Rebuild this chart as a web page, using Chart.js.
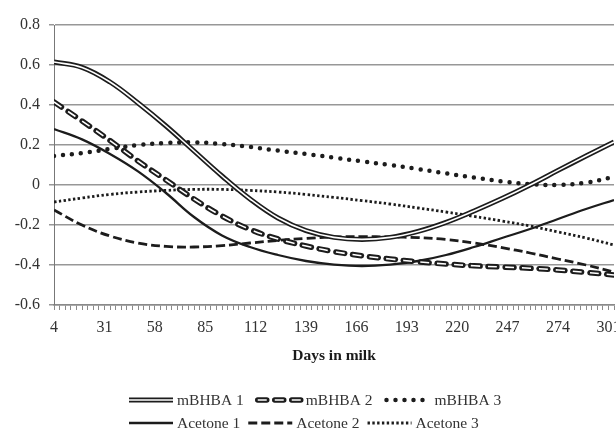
<!DOCTYPE html>
<html>
<head>
<meta charset="utf-8">
<script src="https://cdn.jsdelivr.net/npm/chart.js@4.4.1/dist/chart.umd.min.js"></script>
<style>
    html, body { margin: 0; padding: 0; background: #fff; }
</style>
</head>
<body>
<canvas id="milkChart" width="616" height="437"></canvas>
<script>
const days = [4, 19, 34, 49, 64, 79, 94, 109, 124, 139, 154, 169, 184, 199, 214, 229, 244, 259, 274, 289, 304];

const mBHBA1 = [0.615, 0.588, 0.515, 0.41, 0.295, 0.17, 0.045, -0.07, -0.165, -0.228, -0.262, -0.272, -0.262, -0.232, -0.187, -0.13, -0.068, 0.0, 0.073, 0.145, 0.215];
const mBHBA2 = [0.415, 0.32, 0.222, 0.12, 0.025, -0.07, -0.155, -0.222, -0.27, -0.305, -0.333, -0.354, -0.37, -0.384, -0.395, -0.404, -0.41, -0.416, -0.425, -0.437, -0.45];
const mBHBA3 = [0.145, 0.16, 0.18, 0.2, 0.21, 0.213, 0.205, 0.19, 0.172, 0.155, 0.137, 0.118, 0.1, 0.08, 0.058, 0.037, 0.018, 0.004, 0.0, 0.012, 0.04];
const acetone1 = [0.28, 0.228, 0.155, 0.068, -0.04, -0.16, -0.252, -0.31, -0.35, -0.38, -0.398, -0.405, -0.398, -0.38, -0.35, -0.31, -0.265, -0.22, -0.17, -0.12, -0.075];
const acetone2 = [-0.125, -0.2, -0.255, -0.29, -0.307, -0.31, -0.303, -0.29, -0.277, -0.267, -0.26, -0.258, -0.26, -0.263, -0.272, -0.29, -0.313, -0.34, -0.37, -0.4, -0.435];
const acetone3 = [-0.085, -0.065, -0.047, -0.035, -0.027, -0.022, -0.022, -0.027, -0.035, -0.047, -0.062, -0.078, -0.095, -0.115, -0.135, -0.157, -0.18, -0.205, -0.235, -0.265, -0.3];

const xTickLabels = [4, 31, 58, 85, 112, 139, 166, 193, 220, 247, 274, 301];
const xTitle = 'Days in milk';

const serif = '"Liberation Serif", "DejaVu Serif", serif';
const ink = '#1c1c1c';

const toPoints = values => values.map((v, i) => ({ x: days[i], y: v }));

// second white stroke on top of a line, gives the "double line" look
const innerLinePlugin = {
    id: 'innerLine',
    afterDatasetDraw(chart, args) {
        const ds = chart.data.datasets[args.index];
        const line = args.meta.dataset;
        if (!ds.inner || !line || typeof line.path !== 'function') return;
        const ctx = chart.ctx;
        const area = chart.chartArea;
        ctx.save();
        ctx.beginPath();
        ctx.rect(area.left, area.top - 10, area.right - area.left, area.bottom - area.top + 20);
        ctx.clip();
        ctx.beginPath();
        ctx.strokeStyle = '#ffffff';
        ctx.lineWidth = ds.inner.width;
        ctx.lineCap = 'butt';
        ctx.lineJoin = 'round';
        ctx.setLineDash(ds.inner.dash || []);
        line.path(ctx);
        ctx.stroke();
        ctx.restore();
    }
};

// legend drawn by hand in two rows: three series per row, left aligned
const legendRows = [
    { y: 400, start: 127, items: [0, 1, 2], gap: 12 },
    { y: 423, start: 127, items: [3, 4, 5], gap: 6 }
];
const sampleWidth = 48;

const legendPlugin = {
    id: 'twoRowLegend',
    afterDraw(chart) {
        const ctx = chart.ctx;
        ctx.save();
        ctx.font = '15.5px ' + serif;
        legendRows.forEach(row => {
            let x = row.start;
            row.items.forEach(i => {
                const ds = chart.data.datasets[i];
                const y = row.y;
                ctx.strokeStyle = ds.borderColor;
                ctx.lineWidth = ds.borderWidth;
                ctx.lineCap = ds.borderCapStyle || 'butt';
                ctx.setLineDash(ds.borderDash || []);
                ctx.beginPath();
                ctx.moveTo(x + 2, y);
                ctx.lineTo(x + sampleWidth - 2, y);
                ctx.stroke();
                if (ds.inner) {
                    ctx.strokeStyle = '#ffffff';
                    ctx.lineWidth = ds.inner.width;
                    ctx.lineCap = 'butt';
                    ctx.setLineDash(ds.inner.dash || []);
                    ctx.beginPath();
                    ctx.moveTo(x + 2, y);
                    ctx.lineTo(x + sampleWidth - 2, y);
                    ctx.stroke();
                }
                ctx.setLineDash([]);
                ctx.fillStyle = '#333';
                ctx.textBaseline = 'middle';
                ctx.textAlign = 'left';
                const tx = x + sampleWidth + 2;
                ctx.fillText(ds.label, tx, y + 1);
                x = tx + ctx.measureText(ds.label).width + row.gap;
            });
        });
        ctx.restore();
    }
};

const ctx = document.getElementById('milkChart').getContext('2d');

new Chart(ctx, {
    type: 'line',
    data: {
        datasets: [
            {
                label: 'mBHBA 1',
                data: toPoints(mBHBA1),
                borderColor: ink,
                borderWidth: 5,
                inner: { width: 1.6 },
                pointRadius: 0
            },
            {
                label: 'mBHBA 2',
                data: toPoints(mBHBA2),
                borderColor: ink,
                borderWidth: 5.5,
                borderDash: [9, 8],
                borderCapStyle: 'round',
                inner: { width: 1.6, dash: [9, 8] },
                pointRadius: 0
            },
            {
                label: 'mBHBA 3',
                data: toPoints(mBHBA3),
                borderColor: ink,
                borderWidth: 4.5,
                borderDash: [0, 9],
                borderCapStyle: 'round',
                pointRadius: 0
            },
            {
                label: 'Acetone 1',
                data: toPoints(acetone1),
                borderColor: ink,
                borderWidth: 2.3,
                pointRadius: 0
            },
            {
                label: 'Acetone 2',
                data: toPoints(acetone2),
                borderColor: ink,
                borderWidth: 2.8,
                borderDash: [9, 4],
                pointRadius: 0
            },
            {
                label: 'Acetone 3',
                data: toPoints(acetone3),
                borderColor: ink,
                borderWidth: 2.8,
                borderDash: [2.4, 2.4],
                pointRadius: 0
            }
        ]
    },
    options: {
        responsive: false,
        animation: false,
        devicePixelRatio: 1,
        elements: {
            line: { tension: 0.4 }
        },
        layout: {
            padding: { top: 25, left: 0, right: 2, bottom: 0 }
        },
        plugins: {
            legend: { display: false },
            tooltip: { enabled: false }
        },
        scales: {
            x: {
                type: 'linear',
                min: 4,
                max: 304,
                afterFit: s => {
                    s.height = 132;
                    s.paddingLeft = 0;
                    s.paddingRight = 0;
                },
                ticks: {
                    stepSize: 3,
                    autoSkip: false,
                    maxRotation: 0,
                    minRotation: 0,
                    padding: 8,
                    color: '#333',
                    font: { size: 16, family: serif },
                    callback: v => xTickLabels.includes(v) ? String(v) : ''
                },
                grid: {
                    drawOnChartArea: false,
                    tickLength: 5,
                    color: '#8a8a8a',
                    lineWidth: 1
                },
                border: { color: '#8a8a8a', width: 1.5 },
                title: {
                    display: true,
                    text: xTitle,
                    color: '#1a1a1a',
                    font: { size: 15.5, weight: 'bold', family: serif },
                    padding: { top: 0, bottom: 72 }
                }
            },
            y: {
                min: -0.6,
                max: 0.8,
                afterFit: s => {
                    s.width = 54;
                    s.paddingTop = 0;
                    s.paddingBottom = 0;
                },
                ticks: {
                    stepSize: 0.2,
                    padding: 9,
                    color: '#333',
                    font: { size: 16, family: serif },
                    callback: v => Math.abs(v) < 1e-9 ? '0' : v.toFixed(1)
                },
                grid: {
                    color: '#979797',
                    lineWidth: 1.5,
                    tickLength: 5
                },
                border: { color: '#777', width: 1 }
            }
        }
    },
    plugins: [innerLinePlugin, legendPlugin]
});
</script>
</body>
</html>
